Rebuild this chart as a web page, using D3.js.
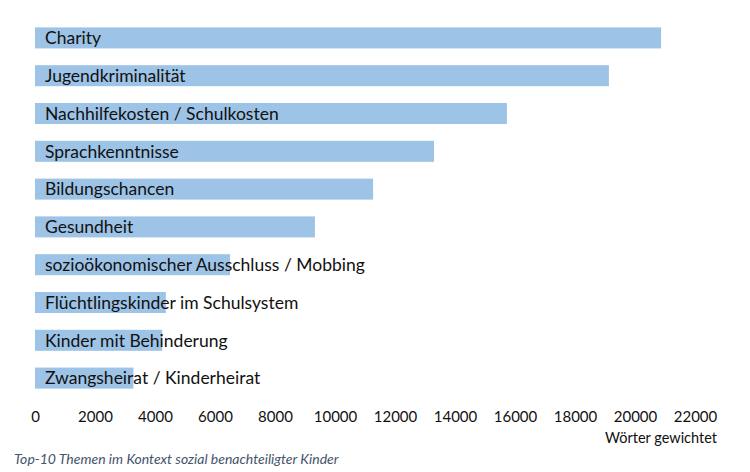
<!DOCTYPE html>
<html lang="de">
<head>
<meta charset="utf-8">
<title>Top-10 Themen</title>
<script src="https://d3js.org/d3.v7.min.js"></script>
<style>
  body { margin: 0; background: #fff; }
  text { font-family: Lato, "Open Sans", sans-serif; }
</style>
</head>
<body>
<script>
// data
var themes = ["Charity", "Jugendkriminalität", "Nachhilfekosten / Schulkosten",
  "Sprachkenntnisse", "Bildungschancen", "Gesundheit",
  "sozioökonomischer Ausschluss / Mobbing", "Flüchtlingskinder im Schulsystem",
  "Kinder mit Behinderung", "Zwangsheirat / Kinderheirat"];
var words = [20870, 19130, 15730, 13300, 11270, 9330, 6500, 4360, 4240, 3280];
var ticks = [0, 2000, 4000, 6000, 8000, 10000, 12000, 14000, 16000, 18000, 20000, 22000];

var w = 750, h = 472;

var svg = d3.select("body").append("svg")
  .attr("width", w)
  .attr("height", h);

var x = d3.scaleLinear()
  .domain([0, 22000])
  .range([35, 695]);

var y = d3.scaleBand()
  .domain(themes)
  .range([19, 397])
  .paddingInner(0.444)
  .paddingOuter(0.222);

svg.selectAll("rect.bar")
  .data(themes)
  .enter()
  .append("rect")
  .attr("class", "bar")
  .attr("x", x(0))
  .attr("y", function(d) { return y(d); })
  .attr("width", function(d, i) { return x(words[i]) - x(0); })
  .attr("height", y.bandwidth())
  .attr("fill", "#9dc3e6");

svg.selectAll("text.lbl")
  .data(themes)
  .enter()
  .append("text")
  .attr("class", "lbl")
  .attr("x", 45)
  .attr("y", function(d) { return y(d) + y.bandwidth() / 2; })
  .attr("dy", "0.36em")
  .attr("font-size", "17.5px")
  .attr("fill", "#111")
  .text(function(d) { return d; });

// x axis, no line, no tick marks
var xAxis = d3.axisBottom(x)
  .tickValues(ticks)
  .tickSize(0)
  .tickPadding(0)
  .tickFormat(d3.format("d"));

var ax = svg.append("g")
  .attr("transform", "translate(0,411)")
  .call(xAxis);
ax.select(".domain").remove();
ax.selectAll("text")
  .attr("font-family", "Lato, sans-serif")
  .attr("font-size", "15px")
  .attr("fill", "#111");

svg.append("text")
  .attr("x", 717)
  .attr("y", 443)
  .attr("text-anchor", "end")
  .attr("font-size", "14.5px")
  .attr("fill", "#111")
  .text("Wörter gewichtet");

svg.append("text")
  .attr("x", 14)
  .attr("y", 464)
  .attr("font-size", "14px")
  .attr("font-style", "italic")
  .attr("fill", "#44546a")
  .text("Top-10 Themen im Kontext sozial benachteiligter Kinder");
</script>
</body>
</html>
